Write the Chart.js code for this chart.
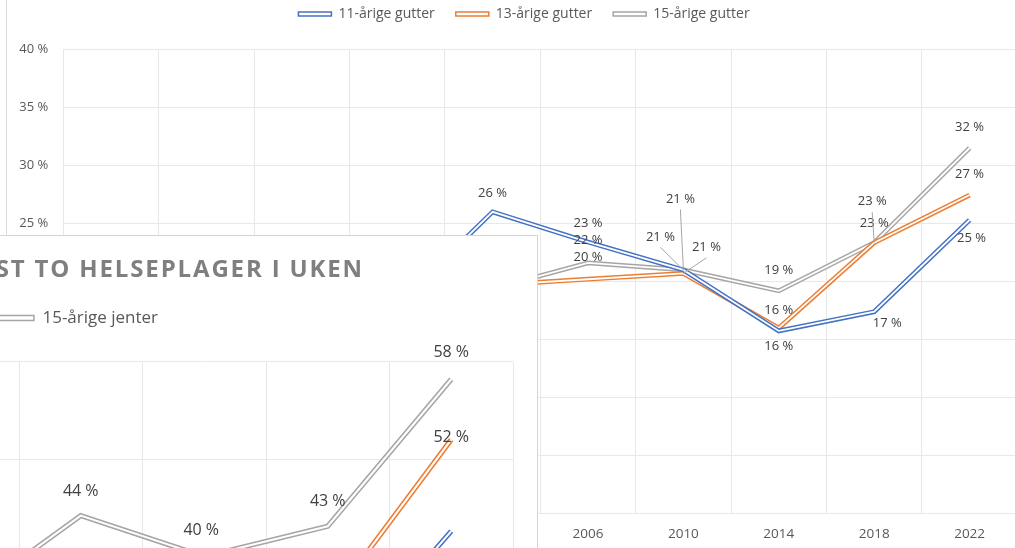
<!DOCTYPE html>
<html lang="no">
<head>
<meta charset="utf-8">
<title>Helseplager i uken</title>
<script src="https://cdn.jsdelivr.net/npm/chart.js@4.4.1/dist/chart.umd.min.js"></script>
<style>
  html, body { margin: 0; padding: 0; background: #fff; }
  body { width: 1015px; height: 548px; overflow: hidden; position: relative; font-family: 'Open Sans', sans-serif; }
  #frame { position: absolute; left: 6px; top: 0; height: 548px; border-left: 1px solid #dcdcdc; }
  #mainChart { position: absolute; left: 8px; top: -14px; }
  #inset { position: absolute; left: -801px; top: 235px; width: 1337px; height: 770px; border: 1px solid #d4d4d4; background: #fff; overflow: hidden; }
  #insetChart { position: absolute; left: 0; top: 0; }
  #insetTitle { position: absolute; left: 0; top: 16px; width: 1164px; text-align: right; white-space: nowrap;
    font: 700 24px/32px 'Open Sans', sans-serif; letter-spacing: 1.85px; color: #7f7f7f; }
</style>
</head>
<body>
<div id="frame"></div>
<canvas id="mainChart" width="1032" height="568"></canvas>
<div id="inset">
  <canvas id="insetChart" width="1337" height="760"></canvas>
  <div id="insetTitle">ANDEL SOM HAR MINST TO HELSEPLAGER I UKEN</div>
</div>
<script>
// survey years (HBSC)
const years = ['1986', '1990', '1994', '1998', '2002', '2006', '2010', '2014', '2018', '2022'];

// main chart: boys
const gutter11 = [15, 14, 16, 18, 26, 23.4, 21, 15.75, 17.4, 25.3];
const gutter13 = [17, 16, 18, 19, 19.7, 20.2, 20.7, 16, 23.35, 27.45];
const gutter15 = [19, 18, 20, 21, 19.4, 21.6, 21, 19.2, 23.35, 31.5];
const gutterNames = ['11-årige gutter', '13-årige gutter', '15-årige gutter'];

// inset chart: girls
const jenter11 = [20, 19, 22, 24, 27, 25, 26, 22, 28, 42.6];
const jenter13 = [28, 27, 30, 32, 34, 30, 33, 30, 35, 52];
const jenter15 = [35, 34, 38, 40, 42, 35, 44.2, 40, 43.1, 58.2];
const jenterNames = ['11-årige jenter', '13-årige jenter', '15-årige jenter'];

const colors = ['#4472C4', '#ED7D31', '#A5A5A5'];

// label placement (dx, dy from the point, leader line)
const mainLabelPos = [
  { 6: [-23, -33, true], 7: [0, 15], 8: [13, 12], 9: [2, 18] },
  { 5: [0, -22], 6: [23, -26, true], 7: [0, -18], 8: [0, -19], 9: [0, -21] },
  { 5: [0, -23], 6: [-3, -71, true], 7: [0, -21], 8: [-2, -41, true], 9: [0, -21] }
];
const insetLabelPos = [
  { 9: [0, 30] },
  { 9: [0, -2] },
  { 6: [0, -24], 7: [-3, -26], 8: [0, -25], 9: [0, -27] }
];

Chart.defaults.font.family = "'Open Sans', sans-serif";

// white stroke down the middle of each line -> double line look
const doubleLine = {
  id: 'doubleLine',
  afterDatasetDraw(chart, args, opts) {
    const pts = args.meta.data;
    const ctx = chart.ctx;
    ctx.save();
    ctx.beginPath();
    pts.forEach((p, i) => i ? ctx.lineTo(p.x, p.y) : ctx.moveTo(p.x, p.y));
    ctx.strokeStyle = '#fff';
    ctx.lineWidth = opts.width;
    ctx.lineJoin = 'miter';
    ctx.stroke();
    ctx.restore();
  }
};

const pointLabels = {
  id: 'pointLabels',
  afterDatasetsDraw(chart, args, opts) {
    const ctx = chart.ctx;
    ctx.save();
    ctx.font = opts.size + "px 'Open Sans', sans-serif";
    ctx.textAlign = 'center';
    ctx.textBaseline = 'middle';
    chart.data.datasets.forEach((ds, di) => {
      chart.getDatasetMeta(di).data.forEach((p, i) => {
        const pos = opts.positions[di][i] || opts.fallback;
        const lx = p.x + pos[0], ly = p.y + pos[1];
        if (pos[2]) {
          ctx.beginPath();
          ctx.moveTo(lx, ly + opts.size * 0.8);
          ctx.lineTo(p.x, p.y);
          ctx.strokeStyle = '#a6a6a6';
          ctx.lineWidth = 1;
          ctx.stroke();
        }
        ctx.fillStyle = opts.color;
        ctx.fillText(Math.round(ds.data[i]) + ' %', lx, ly);
      });
    });
    ctx.restore();
  }
};

function legendItems(chart) {
  return Chart.defaults.plugins.legend.labels.generateLabels(chart)
    .map(it => Object.assign(it, { fillStyle: '#fff', lineWidth: 1.5 }));
}

function makeSets(names, series, width) {
  return series.map((d, i) => ({
    label: names[i],
    data: d,
    borderColor: colors[i],
    backgroundColor: '#fff',
    borderWidth: width,
    borderJoinStyle: 'miter',
    pointRadius: 0,
    tension: 0,
    fill: false
  }));
}

new Chart(document.getElementById('mainChart'), {
  type: 'line',
  data: { labels: years, datasets: makeSets(gutterNames, [gutter11, gutter13, gutter15], 4.8) },
  options: {
    responsive: false,
    animation: false,
    layout: { padding: { left: 0, right: 0, top: 0, bottom: 0 } },
    plugins: {
      legend: {
        position: 'top',
        weight: 3000,
        labels: { boxWidth: 33, boxHeight: 4, padding: 21, color: '#595959', font: { size: 14 }, generateLabels: legendItems }
      },
      // empty title only keeps a gap between legend and plot
      title: { display: true, text: '', font: { size: 10, lineHeight: 1 }, padding: { top: 0, bottom: 8.3 } },
      tooltip: { enabled: false },
      doubleLine: { width: 1.8 },
      pointLabels: { size: 13, color: '#404040', positions: mainLabelPos, fallback: [0, -19] }
    },
    scales: {
      x: {
        offset: true,
        grid: { offset: true, color: '#e8e8e8', drawTicks: false },
        border: { display: false },
        ticks: { color: '#595959', font: { size: 13.5 }, padding: 12 }
      },
      y: {
        min: 0, max: 40,
        grid: { color: '#e8e8e8', drawTicks: false },
        border: { display: false },
        ticks: { stepSize: 5, color: '#595959', font: { size: 13 }, padding: 15, callback: v => v + ' %' },
        afterFit: s => { s.width = 55.3; }
      },
      // empty right axis, only reserves room so the legend sits where it does in the original
      yRight: {
        position: 'right',
        grid: { display: false },
        border: { display: false },
        ticks: { display: false },
        afterFit: s => { s.width = 22.7; }
      }
    }
  },
  plugins: [doubleLine, pointLabels]
});

new Chart(document.getElementById('insetChart'), {
  type: 'line',
  data: { labels: years, datasets: makeSets(jenterNames, [jenter11, jenter13, jenter15], 5.2) },
  options: {
    responsive: false,
    animation: false,
    layout: { padding: { left: 50.8, right: 24, top: 43.5, bottom: 5.6 } },
    plugins: {
      legend: {
        position: 'top',
        weight: 3000,
        labels: { boxWidth: 40, boxHeight: 5, padding: 30, color: '#595959', font: { size: 17 }, generateLabels: legendItems }
      },
      title: { display: true, text: '', font: { size: 10, lineHeight: 1 }, padding: { top: 0, bottom: 15.2 } },
      tooltip: { enabled: false },
      doubleLine: { width: 2.1 },
      pointLabels: { size: 16, color: '#404040', positions: insetLabelPos, fallback: [0, -25] }
    },
    scales: {
      x: {
        offset: true,
        grid: { offset: true, color: '#e8e8e8', drawTicks: false },
        border: { display: false },
        ticks: { color: '#595959', font: { size: 17 }, padding: 12 }
      },
      y: {
        min: 0, max: 60,
        grid: { color: '#e8e8e8', drawTicks: false },
        border: { display: false },
        ticks: { stepSize: 10, color: '#595959', font: { size: 16 }, padding: 15, callback: v => v + ' %' },
        afterFit: s => { s.width = 27.2; }
      }
    }
  },
  plugins: [doubleLine, pointLabels]
});
</script>
</body>
</html>
